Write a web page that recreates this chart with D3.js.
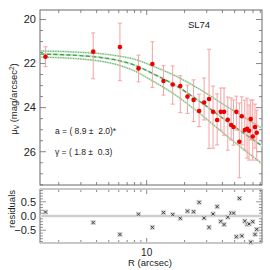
<!DOCTYPE html>
<html>
<head>
<meta charset="utf-8">
<script src="https://cdn.jsdelivr.net/npm/d3@7"></script>
<style>
  html, body { margin: 0; padding: 0; background: #fff; }
  svg { display: block; font-family: "Liberation Sans", Arial, sans-serif; }
  .note { white-space: pre; }
</style>
</head>
<body>
<svg id="chart" width="270" height="270"></svg>
<script>
// --- DATA ---
const radius  = [1.57, 3.76, 6.13, 8.61, 11.1, 13.6, 16.1, 18.5, 21.1, 23.6,
                 26.1, 28.6, 31.3, 33.7, 36.3, 38.8, 41.2, 44.1, 46.9, 49.0,
                 51.6, 54.5, 57.0, 60.2, 62.8, 65.1, 67.1, 69.6, 72.6, 74.9];
const muV     = [21.69, 21.46, 21.25, 22.22, 22.02, 22.79, 22.95, 23.02, 23.50, 23.65,
                 24.15, 23.77, 23.61, 24.19, 24.56, 24.19, 24.19, 24.55, 24.79, 24.88,
                 24.19, 25.55, 24.39, 25.02, 24.96, 25.05, 24.52, 25.31, 24.88, 25.14];
const errUp   = [0.45, 0.85, 1.08, 0.60, 1.01, 0.69, 0.84, 0.47, 0.52, 0.91,
                 0.76, 1.11, 2.26, 1.17, 1.18, 1.08, 1.08, 1.03, 1.23, 1.23,
                 0.71, 1.76, 0.88, 1.36, 1.39, 1.17, 0.86, 1.66, 1.04, 1.03];
const errDown = [0.45, 1.23, 1.53, 0.61, 1.06, 0.64, 0.89, 1.21, 0.76, 0.98,
                 0.71, 0.79, 2.24, 1.65, 1.13, 0.83, 1.06, 1.38, 0.68, 0.82,
                 0.83, 1.63, 1.30, 0.91, 1.33, 1.33, 0.95, 1.07, 0.95, 1.24];
const resid   = [0.14, -0.23, -0.65, 0.06, -0.40, 0.12, 0.05, -0.08, 0.17, 0.15,
                 0.48, -0.07, -0.40, 0.07, 0.33, -0.19, -0.30, -0.04, 0.10, 0.10,
                 -0.73, 0.62, -0.70, -0.18, -0.29, -0.28, -0.92, -0.20, -0.65, -0.47];

// fitted profile and its band
const modelR   = [1.43, 2.97, 4.27, 6.16, 8.11, 10.7, 16.8, 26.6, 42.0, 74.0, 82.6];
const modelMid = [21.57, 21.64, 21.72, 21.88, 22.08, 22.40, 22.98, 23.73, 24.56, 25.55, 25.74];
const modelHi  = [21.43, 21.49, 21.55, 21.67, 21.81, 22.07, 22.55, 23.18, 23.90, 24.77, 24.94];
const modelLo  = [21.71, 21.79, 21.89, 22.09, 22.35, 22.73, 23.41, 24.28, 25.22, 26.33, 26.54];

const muTicks  = [20, 22, 24, 26];
const resTicks = [0.5, 0.0, -0.5];
const resLabels = ["0.5", "0.0", "\u22120.5"];
const xMinor   = [2, 3, 4, 5, 6, 7, 8, 9, 20, 30, 40, 50, 60, 70, 80];

// --- SCALES ---
const L = 40, R = 262;
const topT = 10, topB = 185, resT = 189, resB = 243;

const x    = d3.scaleLog().domain([1.42, 82.5]).range([L, R]);
const yMu  = d3.scaleLinear().domain([19.57, 27.51]).range([topT, topB]);
const yRes = d3.scaleLinear().domain([-0.95, 0.95]).range([resB, resT]);

const svg = d3.select("#chart");
const frame = "#6a6a6a";

svg.append("defs").append("clipPath").attr("id", "clipTop")
  .append("rect").attr("x", L).attr("y", topT).attr("width", R - L).attr("height", topB - topT);

// --- TOP PANEL ---
function xTicks(yEdge, dir) {
  xMinor.forEach(v => {
    const px = x(v);
    if (px > R - 1) return;
    svg.append("line").attr("x1", px).attr("x2", px)
      .attr("y1", yEdge).attr("y2", yEdge + dir * 3)
      .attr("stroke", frame).attr("stroke-width", 0.8);
  });
  svg.append("line").attr("x1", x(10)).attr("x2", x(10))
    .attr("y1", yEdge).attr("y2", yEdge + dir * 5)
    .attr("stroke", frame).attr("stroke-width", 0.8);
}

const muMinor = d3.range(20, 27.51, 0.5);
muMinor.forEach(v => {
  const major = v % 2 === 0;
  const len = major ? 6 : 3;
  svg.append("line").attr("x1", L).attr("x2", L + len)
    .attr("y1", yMu(v)).attr("y2", yMu(v)).attr("stroke", frame).attr("stroke-width", 0.8);
  svg.append("line").attr("x1", R).attr("x2", R - len)
    .attr("y1", yMu(v)).attr("y2", yMu(v)).attr("stroke", frame).attr("stroke-width", 0.8);
});
muTicks.forEach(v => {
  svg.append("text").attr("x", 36).attr("y", yMu(v) + 3.8)
    .attr("text-anchor", "end").style("font-size", "11px").attr("fill", "#222")
    .text(v);
});
xTicks(topT, 1);
xTicks(topB, -1);

svg.append("rect").attr("x", L).attr("y", topT).attr("width", R - L).attr("height", topB - topT)
  .attr("fill", "none").attr("stroke", frame).attr("stroke-width", 1);

// model band
const line = (ys) => d3.line()
  .x((d, i) => x(modelR[i]))
  .y(d => yMu(d))
  .curve(d3.curveMonotoneX)(ys);

const gModel = svg.append("g").attr("clip-path", "url(#clipTop)");
[modelHi, modelLo].forEach(ys => {
  gModel.append("path").attr("d", line(ys)).attr("fill", "none")
    .attr("stroke", "#c6e6c6").attr("stroke-width", 1.8);
  gModel.append("path").attr("d", line(ys)).attr("fill", "none")
    .attr("stroke", "#3f9f55").attr("stroke-width", 0.9)
    .attr("stroke-dasharray", "1 1.5");
});
gModel.append("path").attr("d", line(modelMid)).attr("fill", "none")
  .attr("stroke", "#c6e6c6").attr("stroke-width", 2);
gModel.append("path").attr("d", line(modelMid)).attr("fill", "none")
  .attr("stroke", "#3f9f55").attr("stroke-width", 1.3)
  .attr("stroke-dasharray", "4 2.5");

// error bars + points
const gPts = svg.append("g").attr("clip-path", "url(#clipTop)");
radius.forEach((r, i) => {
  const px = x(r);
  const y1 = yMu(muV[i] - errUp[i]), y2 = yMu(muV[i] + errDown[i]);
  gPts.append("line").attr("x1", px).attr("x2", px).attr("y1", y1).attr("y2", y2)
    .attr("stroke", "#f4a3a3").attr("stroke-width", 1);
  [y1, y2].forEach(yy => {
    gPts.append("line").attr("x1", px - 2).attr("x2", px + 2).attr("y1", yy).attr("y2", yy)
      .attr("stroke", "#f4a3a3").attr("stroke-width", 1);
  });
});
radius.forEach((r, i) => {
  gPts.append("circle").attr("cx", x(r)).attr("cy", yMu(muV[i])).attr("r", 2.3)
    .attr("fill", "#ee0000");
});

svg.append("text").attr("x", 199).attr("y", 28).attr("text-anchor", "middle")
  .style("font-size", "9.5px").attr("fill", "#222").text("SL74");
svg.append("text").attr("class", "note").attr("x", 55).attr("y", 134)
  .style("font-size", "8.5px").attr("fill", "#222").text("a = ( 8.9 \u00b1  2.0)*");
svg.append("text").attr("class", "note").attr("x", 55).attr("y", 154.5)
  .style("font-size", "8.5px").attr("fill", "#222").text("\u03b3 = ( 1.8 \u00b1  0.3)");

const yt = svg.append("text").attr("transform", "translate(17,99) rotate(-90)")
  .attr("text-anchor", "middle").style("font-size", "9.5px").attr("fill", "#222");
yt.append("tspan").text("\u03bc");
yt.append("tspan").attr("dy", 2).style("font-size", "6.5px").text("V");
yt.append("tspan").attr("dy", -2).text(" (mag/arcsec");
yt.append("tspan").attr("dy", -3.5).style("font-size", "6.5px").text("2");
yt.append("tspan").attr("dy", 3.5).text(")");

// --- RESIDUALS PANEL ---
d3.range(-0.9, 0.91, 0.1).forEach(v => {
  const vv = Math.round(v * 10) / 10;
  const major = Math.abs(vv) === 0.5 || vv === 0;
  const len = major ? 6 : 3;
  svg.append("line").attr("x1", L).attr("x2", L + len)
    .attr("y1", yRes(vv)).attr("y2", yRes(vv)).attr("stroke", frame).attr("stroke-width", 0.7);
  svg.append("line").attr("x1", R).attr("x2", R - len)
    .attr("y1", yRes(vv)).attr("y2", yRes(vv)).attr("stroke", frame).attr("stroke-width", 0.7);
});
resTicks.forEach((v, i) => {
  svg.append("text").attr("x", 36).attr("y", yRes(v) + 3.8)
    .attr("text-anchor", "end").style("font-size", "11px").attr("fill", "#222")
    .text(resLabels[i]);
});
xTicks(resT, 1);
xTicks(resB, -1);

svg.append("line").attr("x1", L).attr("x2", L).attr("y1", resT).attr("y2", resB)
  .attr("stroke", frame).attr("stroke-width", 1);
svg.append("line").attr("x1", R).attr("x2", R).attr("y1", resT).attr("y2", resB)
  .attr("stroke", frame).attr("stroke-width", 1);
[resT, resB].forEach(yy => {
  svg.append("line").attr("x1", L).attr("x2", R).attr("y1", yy).attr("y2", yy)
    .attr("stroke", "#c8c8c8").attr("stroke-width", 2);
});
svg.append("line").attr("x1", L).attr("x2", R).attr("y1", yRes(0)).attr("y2", yRes(0))
  .attr("stroke", "#cfcfcf").attr("stroke-width", 2.5);

radius.forEach((r, i) => {
  const px = x(r), py = yRes(resid[i]);
  svg.append("rect").attr("x", px - 2.5).attr("y", py - 2.5).attr("width", 5).attr("height", 5)
    .attr("fill", "#d8d8d8");
  svg.append("path")
    .attr("d", `M${px - 1.6},${py - 1.6}L${px + 1.6},${py + 1.6}M${px - 1.6},${py + 1.6}L${px + 1.6},${py - 1.6}`)
    .attr("stroke", "#333").attr("stroke-width", 0.9);
});

svg.append("text").attr("transform", "translate(15,209) rotate(-90)")
  .attr("text-anchor", "middle").style("font-size", "9.5px").attr("fill", "#222").text("residuals");

svg.append("text").attr("x", x(10)).attr("y", 255.5).attr("text-anchor", "middle")
  .style("font-size", "10px").attr("fill", "#222").text("10");
svg.append("text").attr("x", 150).attr("y", 265.5).attr("text-anchor", "middle")
  .style("font-size", "9.5px").attr("fill", "#222").text("R (arcsec)");
</script>
</body>
</html>
